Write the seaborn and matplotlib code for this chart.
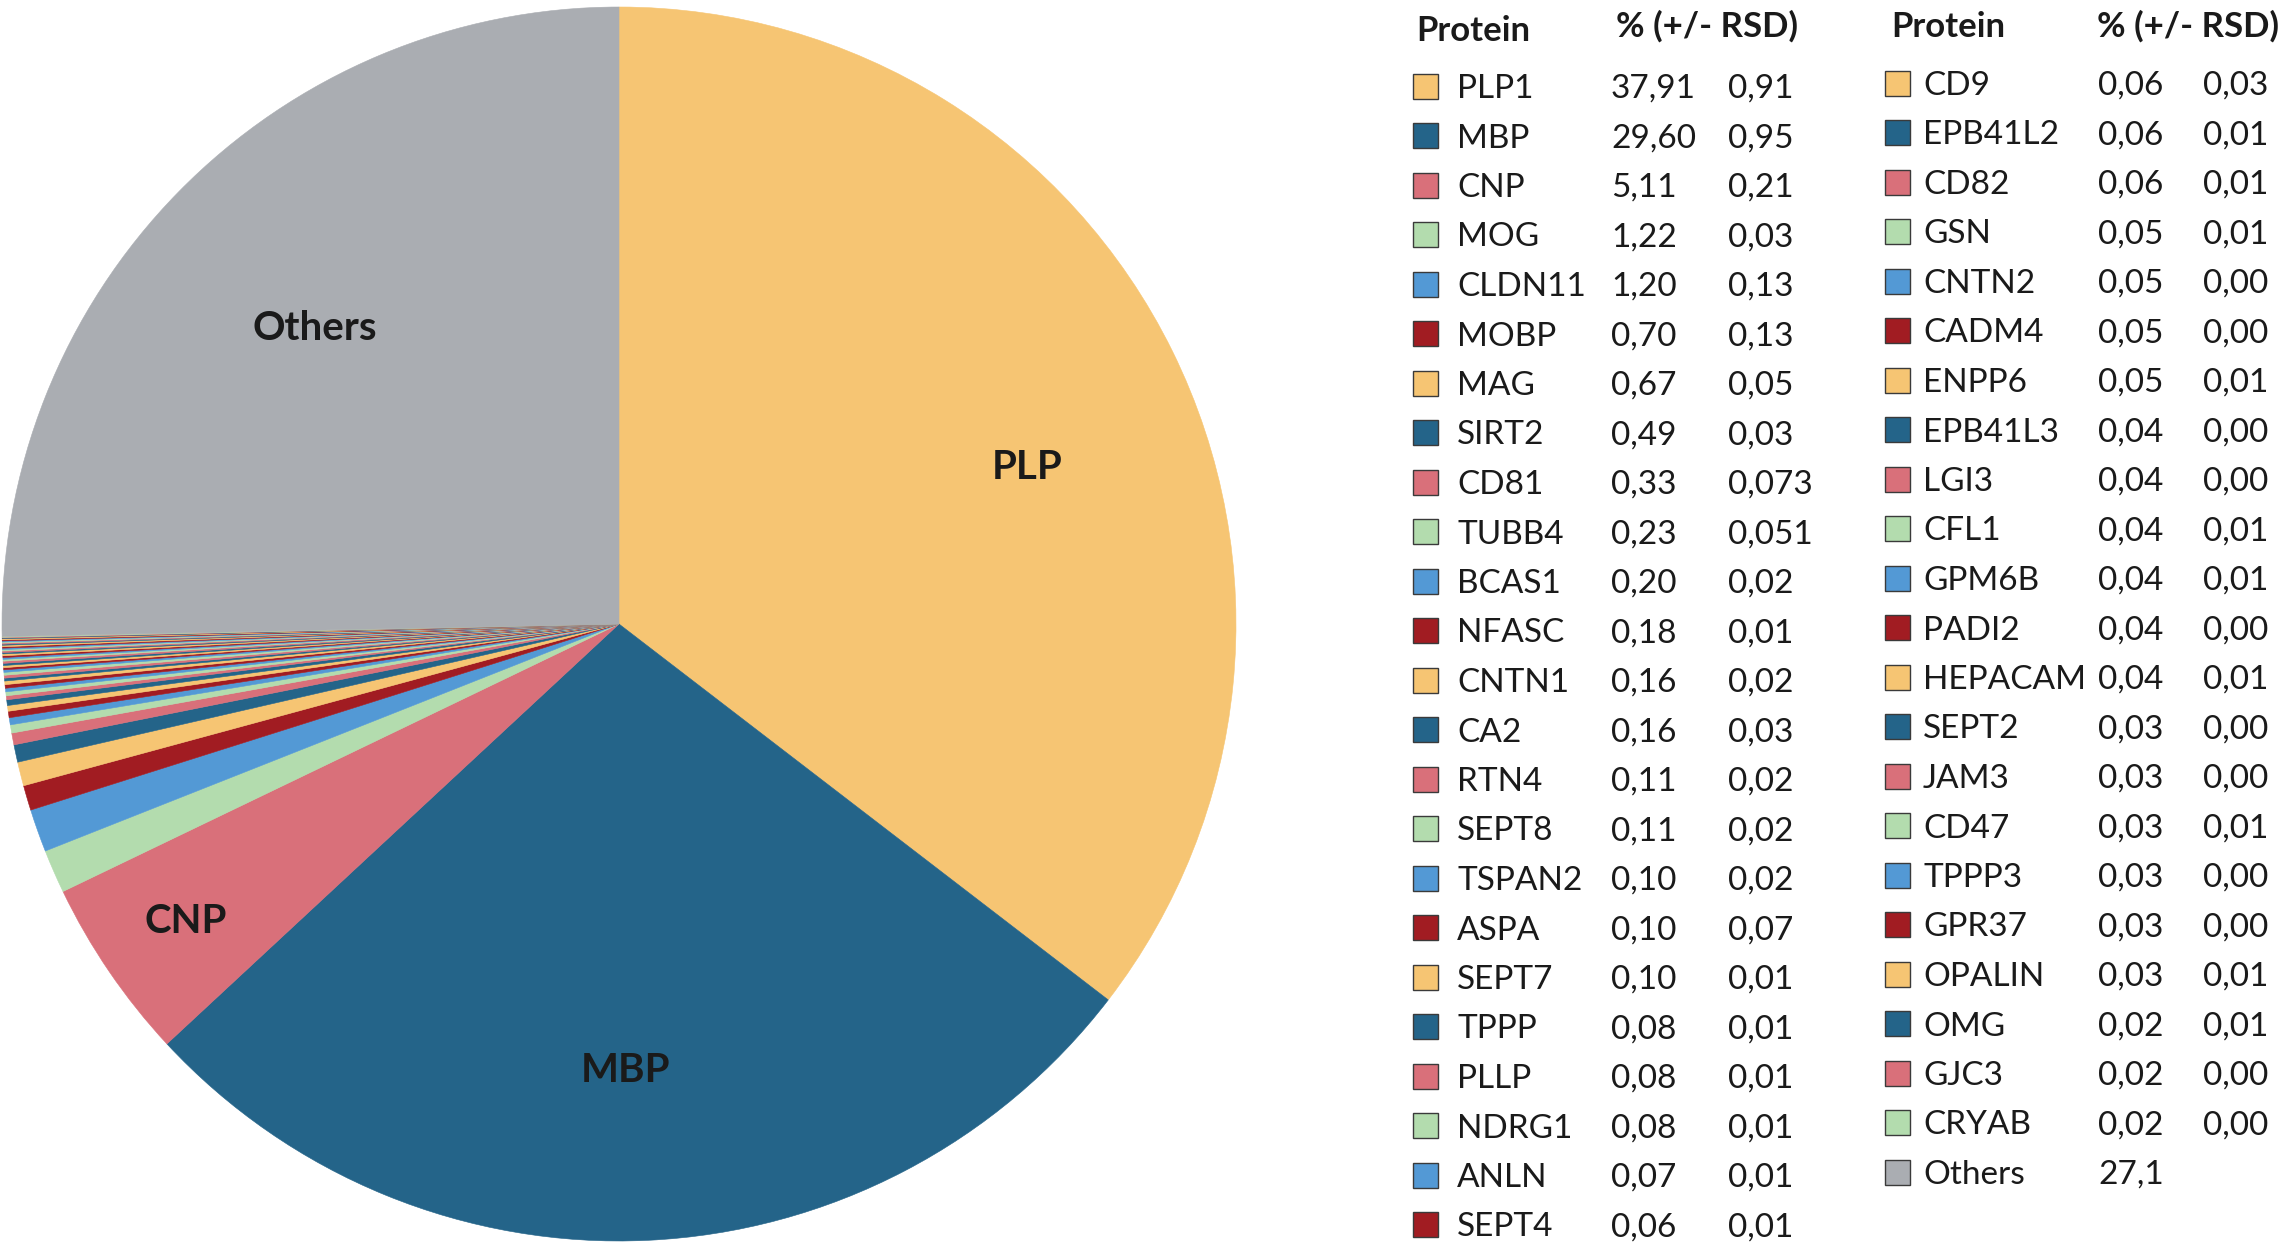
import numpy as np
import pandas as pd
import seaborn as sns
import matplotlib
matplotlib.use("Agg")
import matplotlib.pyplot as plt
from matplotlib.patches import Rectangle

# ---------------- data ----------------
proteins_left = ["PLP1", "MBP", "CNP", "MOG", "CLDN11", "MOBP", "MAG", "SIRT2", "CD81",
                 "TUBB4", "BCAS1", "NFASC", "CNTN1", "CA2", "RTN4", "SEPT8", "TSPAN2",
                 "ASPA", "SEPT7", "TPPP", "PLLP", "NDRG1", "ANLN", "SEPT4"]
pct_left = [37.91, 29.60, 5.11, 1.22, 1.20, 0.70, 0.67, 0.49, 0.33, 0.23, 0.20, 0.18,
            0.16, 0.16, 0.11, 0.11, 0.10, 0.10, 0.10, 0.08, 0.08, 0.08, 0.07, 0.06]
rsd_left = ["0,91", "0,95", "0,21", "0,03", "0,13", "0,13", "0,05", "0,03", "0,073",
            "0,051", "0,02", "0,01", "0,02", "0,03", "0,02", "0,02", "0,02", "0,07",
            "0,01", "0,01", "0,01", "0,01", "0,01", "0,01"]

proteins_right = ["CD9", "EPB41L2", "CD82", "GSN", "CNTN2", "CADM4", "ENPP6", "EPB41L3",
                  "LGI3", "CFL1", "GPM6B", "PADI2", "HEPACAM", "SEPT2", "JAM3", "CD47",
                  "TPPP3", "GPR37", "OPALIN", "OMG", "GJC3", "CRYAB"]
pct_right = [0.06, 0.06, 0.06, 0.05, 0.05, 0.05, 0.05, 0.04, 0.04, 0.04, 0.04, 0.04,
             0.04, 0.03, 0.03, 0.03, 0.03, 0.03, 0.03, 0.02, 0.02, 0.02]
rsd_right = ["0,03", "0,01", "0,01", "0,01", "0,00", "0,00", "0,01", "0,00", "0,00",
             "0,01", "0,01", "0,00", "0,01", "0,00", "0,00", "0,01", "0,00", "0,00",
             "0,01", "0,01", "0,00", "0,00"]

others_name = "Others"
others_pct = 27.1
others_label = "27,1"

pie_labels = {"PLP1": "PLP", "MBP": "MBP", "CNP": "CNP", "Others": "Others"}

# ---------------- style ----------------
sns.set_theme(style="white")
plt.rcParams["font.family"] = ["Lato", "DejaVu Sans"]

cycle = sns.color_palette(["#F6C573", "#246489", "#D9707A", "#B3DCAE", "#5399D5", "#A11C22"])
others_color = "#AAADB2"

names = proteins_left + proteins_right + [others_name]
values = pct_left + pct_right + [others_pct]
colors = [cycle[i % len(cycle)] for i in range(len(names) - 1)] + [others_color]
df = pd.DataFrame({"protein": names, "pct": values, "color": colors})

W, H = 2285, 1247
fig = plt.figure(figsize=(W / 100, H / 100), dpi=100)

# ---------------- pie ----------------
cx, cy, R = 619, 624, 617
ax = fig.add_axes([(cx - R) / W, (H - cy - R) / H, 2 * R / W, 2 * R / H])
wedges, _ = ax.pie(df["pct"], colors=df["color"], startangle=90, counterclock=False,
                   wedgeprops=dict(linewidth=0.4))
for w, c in zip(wedges, df["color"]):
    w.set_edgecolor(c)
ax.set_xlim(-1, 1)
ax.set_ylim(-1, 1)
ax.set_aspect("equal")
ax.axis("off")

total = df["pct"].sum()
cum = df["pct"].cumsum() - df["pct"] / 2
label_pos = {"PLP1": (0.71, -5.0), "MBP": (0.72, -1.8), "CNP": (0.85, 0.0), "Others": (0.69, 0.0)}
for name, txt in pie_labels.items():
    i = df.index[df["protein"] == name][0]
    r, dang = label_pos[name]
    ang = np.deg2rad(90 - 360 * cum[i] / total + dang)
    ax.annotate(txt, (r * np.cos(ang), r * np.sin(ang)), xytext=(0, -10),
                textcoords="offset points", ha="center", va="baseline",
                fontsize=29, fontweight="bold", color="#1a1a1a")

# ---------------- legend table ----------------
def ftext(x, y, s, **kw):
    fig.text(x / W, 1 - y / H, s, **kw)

def square(x, y, color, size=25):
    fig.patches.append(Rectangle((x / W, 1 - (y + size / 2) / H), size / W, size / H,
                                 transform=fig.transFigure, facecolor=color,
                                 edgecolor="#3a3a3a", linewidth=1.0))

fs = 24
hdr = dict(fontsize=25, fontweight="bold", color="#1a1a1a", va="baseline")
txt = dict(fontsize=fs, color="#1a1a1a", va="baseline")
cap = 12  # half cap height in px

# headers
ftext(1416, 29 + cap, "Protein", **hdr)
ftext(1616, 25 + cap, "% (+/- RSD)", **hdr)
ftext(1891, 25 + cap, "Protein", **hdr)
ftext(2097, 25 + cap, "% (+/- RSD)", **hdr)

step = 49.5
for k, (n, v, r) in enumerate(zip(proteins_left, pct_left, rsd_left)):
    y = 86 + k * step
    square(1413, y, cycle[k % len(cycle)])
    ftext(1457, y + cap, n, **txt)
    ftext(1611, y + cap, f"{v:.2f}".replace(".", ","), **txt)
    ftext(1728, y + cap, r, **txt)

off = len(proteins_left)
for k, (n, v, r) in enumerate(zip(proteins_right, pct_right, rsd_right)):
    y = 83 + k * step
    square(1885, y, cycle[(off + k) % len(cycle)])
    ftext(1923, y + cap, n, **txt)
    ftext(2098, y + cap, f"{v:.2f}".replace(".", ","), **txt)
    ftext(2203, y + cap, r, **txt)

y = 83 + len(proteins_right) * step
square(1885, y, others_color)
ftext(1923, y + cap, others_name, **txt)
ftext(2098, y + cap, others_label, **txt)

fig.savefig("out.png", dpi=100, facecolor="white")
